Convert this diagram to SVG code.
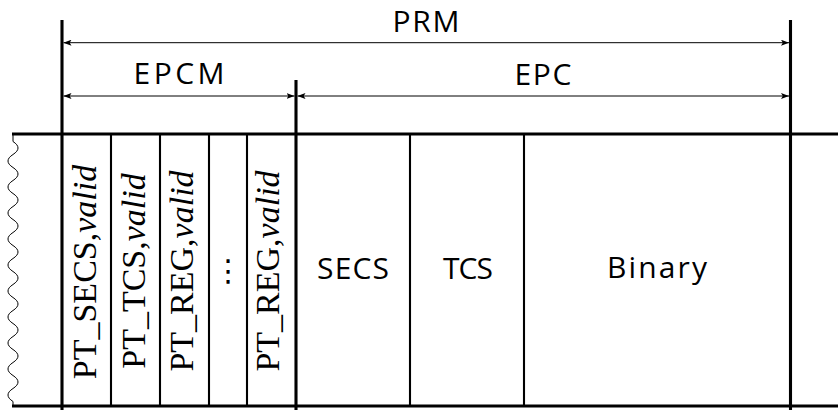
<svg xmlns="http://www.w3.org/2000/svg" width="838" height="410" viewBox="0 0 838 410">
  <defs>
    <marker id="tip" viewBox="0 0 8 6" refX="8" refY="3" markerWidth="8" markerHeight="6" orient="auto-start-reverse" markerUnits="userSpaceOnUse">
      <path d="M0,0 L8,3 L0,6 L1.8,3 z" fill="#000"/>
    </marker>
    <style>
      .thick{stroke:#000;stroke-width:3.1;fill:none}
      .thin{stroke:#000;stroke-width:2.1;fill:none}
      .dim{stroke:#000;stroke-width:1;fill:none}
      .wave{stroke:#000;stroke-width:1;fill:none}
      .lbl{font-family:"Open Sans",Lato,sans-serif;font-size:30px;fill:#000;text-anchor:middle}
      .vl{font-family:"Liberation Serif",serif;font-size:34px;fill:#000;text-anchor:middle}
      .it{font-style:italic}
    </style>
  </defs>
  <rect width="838" height="410" fill="#fff"/>

  <!-- torn left edge of the memory strip -->
  <path class="wave" d="M13,134 V141.5
    c6.67,4.3 6.67,8.7 0,13 c-6.67,4.3 -6.67,8.7 0,13
    c6.67,4.3 6.67,8.7 0,13 c-6.67,4.3 -6.67,8.7 0,13
    c6.67,4.3 6.67,8.7 0,13 c-6.67,4.3 -6.67,8.7 0,13
    c6.67,4.3 6.67,8.7 0,13 c-6.67,4.3 -6.67,8.7 0,13
    c6.67,4.3 6.67,8.7 0,13 c-6.67,4.3 -6.67,8.7 0,13
    c6.67,4.3 6.67,8.7 0,13 c-6.67,4.3 -6.67,8.7 0,13
    c6.67,4.3 6.67,8.7 0,13 c-6.67,4.3 -6.67,8.7 0,13
    c6.67,4.3 6.67,8.7 0,13 c-6.67,4.3 -6.67,8.7 0,13
    c6.67,4.3 6.67,8.7 0,13 c-6.67,4.3 -6.67,8.7 0,13
    c6.67,4.3 6.67,8.7 0,13 c-6.67,4.3 -6.67,8.7 0,13
    V406"/>

  <!-- strip outline and region boundaries -->
  <g id="strip">
    <line class="thick" x1="12" y1="134" x2="838" y2="134"/>
    <line class="thick" x1="12" y1="406" x2="838" y2="406"/>
    <line class="thick" x1="62" y1="20" x2="62" y2="410"/>
    <line class="thick" x1="296" y1="80" x2="296" y2="410"/>
    <line class="thick" x1="790.5" y1="20" x2="790.5" y2="410"/>
  </g>

  <!-- EPCM entries -->
  <g id="pt-secs">
    <line class="thin" x1="111" y1="134" x2="111" y2="406"/>
    <text class="vl" transform="translate(96,272) rotate(-90)">PT_SECS,<tspan class="it">valid</tspan></text>
  </g>
  <g id="pt-tcs">
    <line class="thin" x1="160" y1="134" x2="160" y2="406"/>
    <text class="vl" transform="translate(144.5,271) rotate(-90)">PT_TCS,<tspan class="it">valid</tspan></text>
  </g>
  <g id="pt-reg">
    <line class="thin" x1="209" y1="134" x2="209" y2="406"/>
    <text class="vl" transform="translate(192.5,271) rotate(-90)">PT_REG,<tspan class="it">valid</tspan></text>
  </g>
  <g id="ellipsis">
    <line class="thin" x1="247" y1="134" x2="247" y2="406"/>
    <text x="228.3" y="281" style="font-family:'DejaVu Sans',sans-serif;font-size:30px;text-anchor:middle">⋮</text>
  </g>
  <g id="pt-reg-last">
    <text class="vl" transform="translate(278.5,271) rotate(-90)">PT_REG,<tspan class="it">valid</tspan></text>
  </g>

  <!-- EPC pages -->
  <g id="secs">
    <line class="thin" x1="410" y1="134" x2="410" y2="406"/>
    <text class="lbl" x="353" y="279" textLength="72" lengthAdjust="spacing">SECS</text>
  </g>
  <g id="tcs">
    <line class="thin" x1="524" y1="134" x2="524" y2="406"/>
    <text class="lbl" x="468" y="279" textLength="50" lengthAdjust="spacing">TCS</text>
  </g>
  <g id="binary">
    <text class="lbl" x="657" y="278" textLength="100" lengthAdjust="spacing">Binary</text>
  </g>

  <!-- range dimensions -->
  <g id="connectors">
    <line class="dim" x1="63.5" y1="42.7" x2="789" y2="42.7" marker-start="url(#tip)" marker-end="url(#tip)"/>
    <line class="dim" x1="63.5" y1="96" x2="294.5" y2="96" marker-start="url(#tip)" marker-end="url(#tip)"/>
    <line class="dim" x1="297.5" y1="96" x2="789" y2="96" marker-start="url(#tip)" marker-end="url(#tip)"/>
  </g>
  <g id="range-labels">
    <text class="lbl" x="426" y="32" textLength="67" lengthAdjust="spacing">PRM</text>
    <text class="lbl" x="179" y="84" textLength="91" lengthAdjust="spacing">EPCM</text>
    <text class="lbl" x="543" y="85" textLength="57" lengthAdjust="spacing">EPC</text>
  </g>
</svg>
